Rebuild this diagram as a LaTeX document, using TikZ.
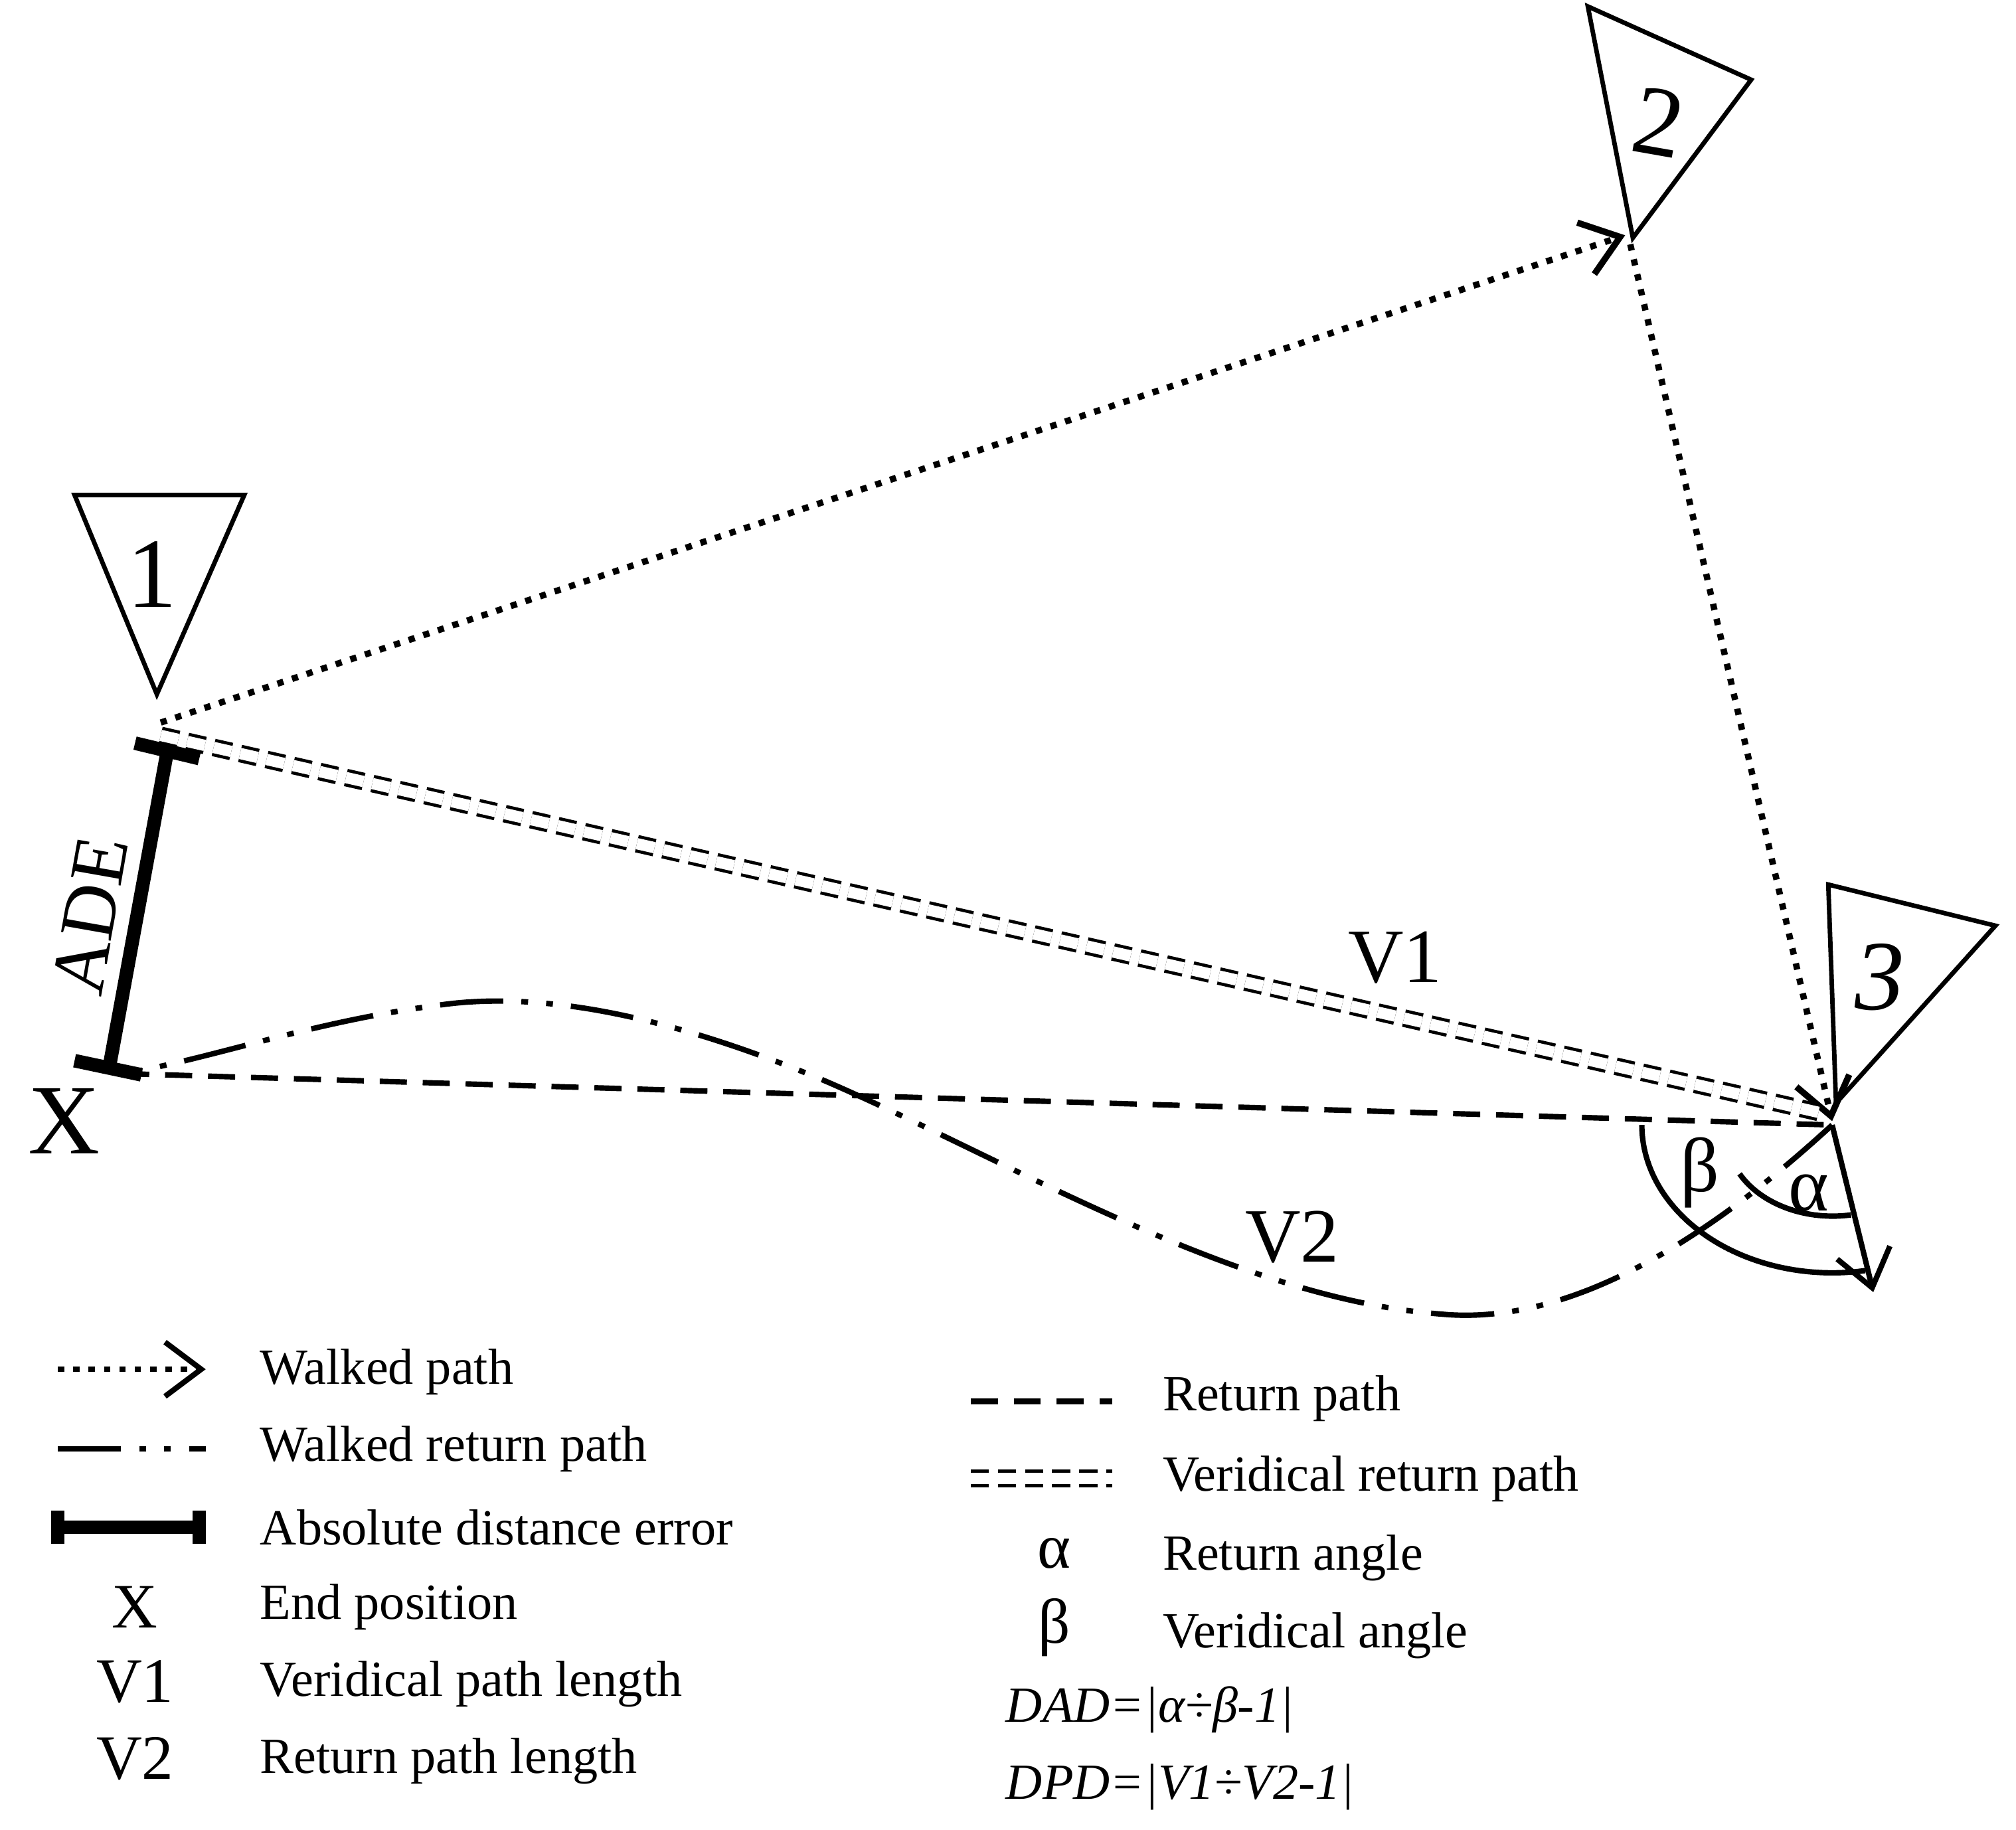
\documentclass[tikz,border=0pt]{standalone}
\usepackage{fontspec}
\setmainfont{Liberation Serif}
\usetikzlibrary{arrows.meta}
\begin{document}
\begin{tikzpicture}[x=0.01cm,y=-0.01cm,
  walk/.style={line width=1.4pt,dotted,-{Straight Barb[length=8pt,width=12pt]}},
  ret/.style={line width=1.2pt,dash pattern=on 6pt off 3.5pt},
  verid/.style={double,double distance=2.5pt,line width=0.7pt,dash pattern=on 4pt off 2pt},
  wret/.style={line width=1.2pt,dash pattern=on 14pt off 4pt on 1.5pt off 4pt on 1.5pt off 4pt},
  ade/.style={line width=3pt},
  tri/.style={line width=1pt},
  big/.style={font=\fontsize{22}{24}\selectfont},
  lab/.style={font=\fontsize{17}{19}\selectfont},
  leg/.style={font=\fontsize{11.2}{13}\selectfont,anchor=west}]
\useasboundingbox (0,0) rectangle (1568,1423);
% landmarks
\draw[tri] (58,385) -- (190,385) -- (122,540) -- cycle;
\node[big] (n1) at (118,447) {1};
\draw[tri] (1235,5) -- (1362,62) -- (1270,185) -- cycle;
\node[big,rotate=-10] (n2) at (1290,95) {2};
\draw[tri] (1422,688) -- (1552,720) -- (1428,858) -- cycle;
\node[big,font=\fontsize{22}{24}\selectfont\itshape] (n3) at (1462,760) {3};
\coordinate (p1) at (125,562);
\coordinate (p2) at (1264,183);
\coordinate (p2b) at (1268,190);
\coordinate (p3) at (1425,872);
\coordinate (c) at (1425,875);
\coordinate (x) at (95,835);
% walked path
\draw[walk] (p1) -- (p2);
\draw[walk] (p2b) -- (p3);
% veridical
\draw[verid] (125,572) -- (1418,866);
\node[lab] (v1) at (1085,745) {V1};
% return
\draw[ret] (x) -- (c);
% walked return
\draw[wret] (c) .. controls (1300,990) and (1200,1030) .. (1120,1022)
  .. controls (960,1010) and (780,900) .. (640,840)
  .. controls (520,790) and (420,770) .. (340,782)
  .. controls (240,795) and (160,825) .. (x);
\node[lab] (v2) at (1005,962) {V2};
% ADE
\draw[ade] (130,585) -- (85,830);
\draw[ade] (105,578) -- (155,590);
\draw[ade] (58,825) -- (110,836);
\node[lab,rotate=80,inner sep=0pt] (ade) at (70,712) {ADE};
\node[big] (X) at (50,872) {X};
% angles
\draw[line width=1.2pt] (c) ++(180:148) arc[start angle=180,end angle=80,x radius=148,y radius=115];
\draw[line width=1.2pt] (c) ++(-72,38) arc[start angle=152,end angle=80,x radius=82,y radius=62];
\draw[line width=1.2pt,-{Straight Barb[length=8pt,width=12pt]}] (c) -- (1457,1005);
\node[lab] (beta) at (1322,912) {β};
\node[lab] (alpha) at (1407,928) {α};
% legend left
\coordinate (a1) at (45,1065); \coordinate (a2) at (160,1065);
\draw[walk,line width=1.2pt] (a1) -- (a2);
\coordinate (b1) at (45,1127); \coordinate (b2) at (160,1127);
\draw[wret] (b1) -- (b2);
\coordinate (d1) at (45,1188); \coordinate (d2) at (155,1188);
\draw[ade] (d1) -- (d2); \draw[ade] (45,1175) -- (45,1201); \draw[ade] (155,1175) -- (155,1201);
\node[leg] (l1) at (190,1067) {Walked path};
\node[leg] (l2) at (190,1127) {Walked return path};
\node[leg] (l3) at (190,1188) {Absolute distance error};
\node[leg] (l4) at (190,1250) {End position};
\node[leg] (l5) at (190,1310) {Veridical path length};
\node[leg] (l6) at (190,1370) {Return path length};
\node[font=\fontsize{14}{16}\selectfont] (s1) at (105,1250) {X};
\node[font=\fontsize{14}{16}\selectfont] (s2) at (105,1308) {V1};
\node[font=\fontsize{14}{16}\selectfont] (s3) at (105,1368) {V2};
% legend right
\coordinate (e1) at (755,1090); \coordinate (e2) at (865,1090);
\draw[ret] (e1) -- (e2);
\coordinate (f1) at (755,1150); \coordinate (f2) at (865,1150);
\draw[verid] (f1) -- (f2);
\node[leg] (r1) at (892,1088) {Return path};
\node[leg] (r2) at (892,1150) {Veridical return path};
\node[leg] (r3) at (892,1212) {Return angle};
\node[leg] (r4) at (892,1272) {Veridical angle};
\node[font=\fontsize{14}{16}\selectfont] (s4) at (820,1208) {α};
\node[font=\fontsize{14}{16}\selectfont] (s5) at (820,1266) {β};
\node[leg,font=\fontsize{11.2}{13}\selectfont\itshape] (r5) at (770,1330) {DAD=|α÷β-1|};
\node[leg,font=\fontsize{11.2}{13}\selectfont\itshape] (r6) at (770,1390) {DPD=|V1÷V2-1|};
\end{tikzpicture}
\end{document}
